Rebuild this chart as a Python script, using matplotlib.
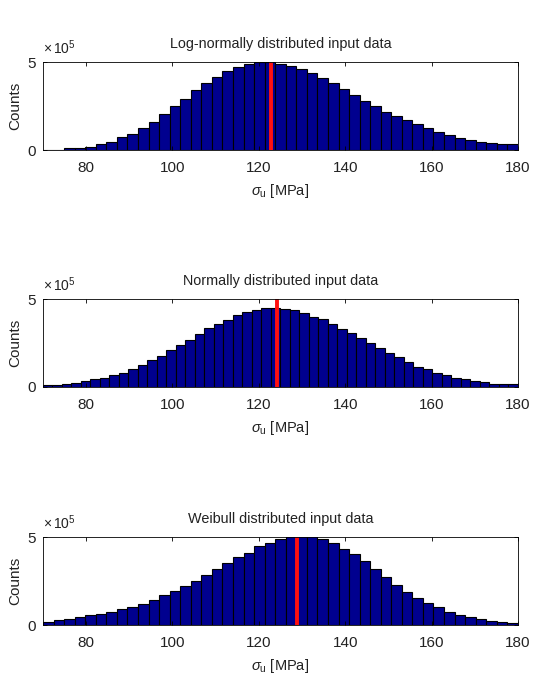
"""
Three histograms of sigma_u for different input distributions,
with the mean marked by a red line.
"""

import matplotlib
matplotlib.use('Agg')
import matplotlib.pyplot as plt
import numpy as np

plt.rcParams['font.family'] = ['Liberation Sans', 'DejaVu Sans']
plt.rcParams['mathtext.fontset'] = 'custom'
plt.rcParams['mathtext.rm'] = 'Liberation Sans'
plt.rcParams['mathtext.it'] = 'Liberation Sans:italic'

# counts in units of 1e5, bins from 70 to 180 MPa
lognormal_counts = [0.04, 0.04, 0.15, 0.15, 0.21, 0.34, 0.48, 0.74, 0.95, 1.29,
                    1.63, 2.05, 2.53, 2.91, 3.42, 3.80, 4.14, 4.49, 4.71, 4.90,
                    5.00, 5.00, 4.92, 4.81, 4.62, 4.37, 4.11, 3.80, 3.48, 3.14,
                    2.81, 2.53, 2.19, 1.96, 1.71, 1.48, 1.25, 1.05, 0.87, 0.72,
                    0.59, 0.49, 0.40, 0.34, 0.34]
normal_counts = [0.10, 0.10, 0.15, 0.25, 0.32, 0.46, 0.52, 0.67, 0.82, 1.01,
                 1.24, 1.53, 1.76, 2.10, 2.39, 2.67, 3.00, 3.34, 3.57, 3.82,
                 4.10, 4.26, 4.39, 4.48, 4.48, 4.43, 4.35, 4.20, 4.00, 3.87,
                 3.57, 3.28, 3.05, 2.77, 2.48, 2.19, 1.95, 1.68, 1.43, 1.15,
                 1.03, 0.82, 0.67, 0.53, 0.44, 0.34, 0.29, 0.19, 0.17, 0.15]
weibull_counts = [0.17, 0.26, 0.36, 0.43, 0.55, 0.62, 0.74, 0.89, 1.04, 1.21,
                  1.42, 1.70, 1.92, 2.21, 2.51, 2.83, 3.21, 3.53, 3.87, 4.11,
                  4.47, 4.68, 4.87, 5.05, 5.05, 5.05, 4.87, 4.66, 4.34, 4.02,
                  3.62, 3.21, 2.74, 2.26, 1.89, 1.51, 1.23, 1.00, 0.75, 0.58,
                  0.43, 0.32, 0.25, 0.17, 0.13]

means = [122.7, 124.2, 128.8]
titles = ['Log-normally distributed input data',
          'Normally distributed input data',
          'Weibull distributed input data']
x_range = (70, 180)

fig = plt.figure(figsize=(5.37, 6.83), dpi=100)
bottoms = [0.780, 0.4334, 0.0849]
all_counts = [lognormal_counts, normal_counts, weibull_counts]

for counts, mean, title, b in zip(all_counts, means, titles, bottoms):
    ax = fig.add_axes([0.080, b, 0.8845, 0.1288])
    counts = np.array(counts) * 1e5
    edges = np.linspace(x_range[0], x_range[1], len(counts) + 1)
    ax.bar(edges[:-1], counts, width=np.diff(edges), align='edge',
           color='#00008f', edgecolor='black', linewidth=0.8)
    ax.plot([mean, mean], [0, 5e5], color='#ff1010', linewidth=2.8)

    ax.set_xlim(*x_range)
    ax.set_ylim(0, 5e5)
    ax.set_xticks([80, 100, 120, 140, 160, 180])
    ax.set_yticks([0, 5e5])
    ax.set_yticklabels(['0', '5'])
    ax.tick_params(direction='in', top=True, right=True, labelsize=11,
                   length=3, width=0.6, labelcolor='#222222')
    ax.tick_params(axis='x', pad=8)
    ax.tick_params(axis='y', pad=5)
    for s in ax.spines.values():
        s.set_linewidth(0.6)

    ax.set_title(title, fontsize=10.4, pad=10, color='#222222')
    ax.set_xlabel(r'$\sigma_{\rm u}$ [MPa]', fontsize=10.5, labelpad=5,
                  color='#222222')
    ax.set_ylabel('Counts', fontsize=11, labelpad=4, color='#222222')
    ax.text(0.0, 1.06, r'$\times\,10^{5}$', transform=ax.transAxes,
            fontsize=10, ha='left', va='bottom', color='#222222')

fig.savefig('out.png', dpi=100)
